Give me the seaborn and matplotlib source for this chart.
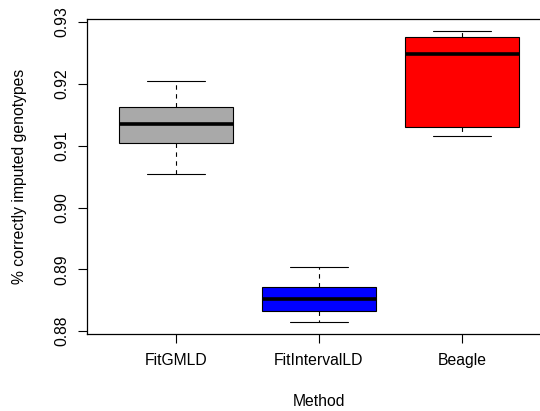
import numpy as np
import pandas as pd
import matplotlib
matplotlib.use("Agg")
import matplotlib.pyplot as plt
import seaborn as sns

methods = ["FitGMLD", "FitIntervalLD", "Beagle"]
# five-number summaries: min, Q1, median, Q3, max
fitgmld = [0.9055, 0.9104, 0.9135, 0.9163, 0.9204]
fitinterval = [0.8815, 0.8832, 0.8852, 0.8872, 0.8904]
beagle = [0.9116, 0.9130, 0.9249, 0.9276, 0.9285]
colors = ["#A9A9A9", "#0000FF", "#FF0000"]
yticks = [0.88, 0.89, 0.90, 0.91, 0.92, 0.93]

df = pd.DataFrame({
    "Method": np.repeat(methods, 5),
    "value": fitgmld + fitinterval + beagle,
})

sns.set_style("white")
plt.rcParams["font.family"] = ["Liberation Sans", "DejaVu Sans"]
plt.rcParams["text.color"] = "black"
plt.rcParams["axes.labelcolor"] = "black"

fig = plt.figure(figsize=(5.4, 4.11), dpi=100)
ax = fig.add_axes([87.3 / 540, (411 - 333.7) / 411, 463.3 / 540, 314.7 / 411])

lw = 0.8
sns.boxplot(data=df, x="Method", y="value", hue="Method", palette=colors,
            order=methods, hue_order=methods, width=0.8, whis=100, saturation=1,
            linecolor="black", linewidth=lw, legend=False, ax=ax,
            whiskerprops={"linestyle": (0, (4, 4)), "linewidth": lw},
            capprops={"linewidth": lw},
            medianprops={"linewidth": 2.6, "color": "black"},
            boxprops={"linewidth": lw, "edgecolor": "black"})

ax.set_xlim(-0.62, 2.62)
ax.set_ylim(0.87961, 0.93049)
ax.set_yticks(yticks)
ax.set_yticklabels([f"{v:.2f}" for v in yticks])

for s in ax.spines.values():
    s.set_visible(True)
    s.set_color("black")
    s.set_linewidth(0.9)

ax.tick_params(axis="both", direction="out", length=6.8, width=0.8,
               color="black", labelsize=11.3, labelcolor="black",
               left=True, bottom=True)
ax.tick_params(axis="x", pad=7)
ax.tick_params(axis="y", pad=6, labelrotation=90)
for t in ax.get_yticklabels():
    t.set_va("center")

ax.set_xlabel("Method", fontsize=11.3, color="black")
ax.set_ylabel("% correctly imputed genotypes", fontsize=11.3, color="black")
ax.xaxis.set_label_coords(0.5, -0.216)
ax.xaxis.label.set_va("center")
ax.yaxis.set_label_coords(-0.1453, 0.5)
ax.yaxis.label.set_va("center")
ax.grid(False)

fig.savefig("out.png", dpi=100)
